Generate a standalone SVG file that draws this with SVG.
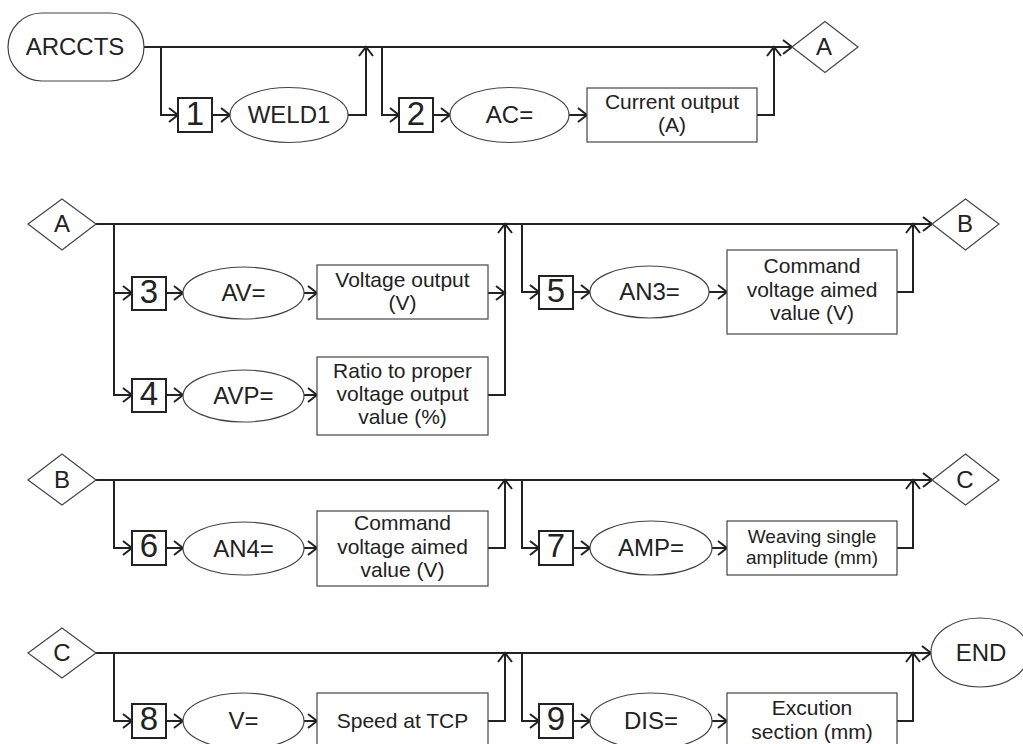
<svg xmlns="http://www.w3.org/2000/svg" width="1023" height="744" viewBox="0 0 1023 744">
<style>
  .bg{fill:#ffffff}
  .sh{fill:#ffffff;stroke:#444;stroke-width:1.2}
  .num{fill:#ffffff;stroke:#222;stroke-width:2}
  .t{font-family:"Liberation Sans",Arial,sans-serif;fill:#222;text-anchor:middle}
  .big{font-size:24px}
  .dig{font-size:33px}
  .mid{font-size:21px}
  .sm{font-size:19px}
  .c{fill:none;stroke:#222;stroke-width:2}
</style>
<defs>
  <marker id="ah" markerUnits="userSpaceOnUse" viewBox="-11 -9 13 18" markerWidth="13" markerHeight="18" refX="0" refY="0" orient="auto" overflow="visible">
    <path d="M-9,-7 L0,0 L-9,7" fill="none" stroke="#222" stroke-width="2"/>
  </marker>
</defs>
<rect class="bg" x="0" y="0" width="1023" height="744"/>

<g id="connectors">
  <!-- Row 1 -->
  <path class="c" d="M144,47 H792" marker-end="url(#ah)"/>
  <path class="c" d="M161,47 V115 H178" marker-end="url(#ah)"/>
  <path class="c" d="M212,115 H230" marker-end="url(#ah)"/>
  <path class="c" d="M348,115 H366 V47" marker-end="url(#ah)"/>
  <path class="c" d="M382,47 V115 H399" marker-end="url(#ah)"/>
  <path class="c" d="M433,115 H450" marker-end="url(#ah)"/>
  <path class="c" d="M569,115 H587" marker-end="url(#ah)"/>
  <path class="c" d="M757,115 H774 V47" marker-end="url(#ah)"/>
  <!-- Row 2 -->
  <path class="c" d="M96,224 H932" marker-end="url(#ah)"/>
  <path class="c" d="M114,224 V395 H132" marker-end="url(#ah)"/>
  <path class="c" d="M114,293 H132" marker-end="url(#ah)"/>
  <path class="c" d="M166,293 H183" marker-end="url(#ah)"/>
  <path class="c" d="M304,293 H317" marker-end="url(#ah)"/>
  <path class="c" d="M488,293 H505" marker-end="url(#ah)"/>
  <path class="c" d="M166,395 H183" marker-end="url(#ah)"/>
  <path class="c" d="M304,395 H317" marker-end="url(#ah)"/>
  <path class="c" d="M488,395 H505 V224" marker-end="url(#ah)"/>
  <path class="c" d="M522,224 V292 H539" marker-end="url(#ah)"/>
  <path class="c" d="M573,292 H590" marker-end="url(#ah)"/>
  <path class="c" d="M709,292 H727" marker-end="url(#ah)"/>
  <path class="c" d="M897,292 H913 V224" marker-end="url(#ah)"/>
  <!-- Row 3 -->
  <path class="c" d="M96,480 H932" marker-end="url(#ah)"/>
  <path class="c" d="M114,480 V548 H132" marker-end="url(#ah)"/>
  <path class="c" d="M166,548 H183" marker-end="url(#ah)"/>
  <path class="c" d="M304,548 H317" marker-end="url(#ah)"/>
  <path class="c" d="M488,548 H505 V480" marker-end="url(#ah)"/>
  <path class="c" d="M522,480 V548 H539" marker-end="url(#ah)"/>
  <path class="c" d="M573,548 H590" marker-end="url(#ah)"/>
  <path class="c" d="M712,548 H727" marker-end="url(#ah)"/>
  <path class="c" d="M897,548 H913 V480" marker-end="url(#ah)"/>
  <!-- Row 4 -->
  <path class="c" d="M96,653 H931" marker-end="url(#ah)"/>
  <path class="c" d="M114,653 V721 H132" marker-end="url(#ah)"/>
  <path class="c" d="M166,721 H183" marker-end="url(#ah)"/>
  <path class="c" d="M304,721 H317" marker-end="url(#ah)"/>
  <path class="c" d="M488,721 H505 V653" marker-end="url(#ah)"/>
  <path class="c" d="M522,653 V721 H539" marker-end="url(#ah)"/>
  <path class="c" d="M573,721 H590" marker-end="url(#ah)"/>
  <path class="c" d="M712,721 H727" marker-end="url(#ah)"/>
  <path class="c" d="M897,721 H913 V653" marker-end="url(#ah)"/>
</g>

<!-- Row 1 nodes -->
<g id="arccts"><rect class="sh" x="8" y="13" width="136" height="68" rx="34"/><text class="t big" x="75" y="55">ARCCTS</text></g>
<g id="n1"><rect class="num" x="178" y="98" width="34" height="34"/><text class="t dig" x="195" y="125">1</text></g>
<g id="weld1"><ellipse class="sh" cx="289" cy="115" rx="59" ry="27.5"/><text class="t big" x="289" y="123">WELD1</text></g>
<g id="n2"><rect class="num" x="399" y="98" width="34" height="34"/><text class="t dig" x="416" y="125">2</text></g>
<g id="ac"><ellipse class="sh" cx="509.5" cy="115" rx="59.5" ry="27.5"/><text class="t big" x="509.5" y="123">AC=</text></g>
<g id="current"><rect class="sh" x="587" y="88" width="170" height="54"/><text class="t mid" x="672" y="109">Current output</text><text class="t mid" x="672" y="132">(A)</text></g>
<g id="diamondA1"><polygon class="sh" points="792,47 825,21.5 858,47 825,72.5"/><text class="t big" x="824" y="55">A</text></g>

<!-- Row 2 nodes -->
<g id="diamondA2"><polygon class="sh" points="28,224 62,199 96,224 62,250"/><text class="t big" x="62" y="232">A</text></g>
<g id="n3"><rect class="num" x="132" y="277" width="34" height="33"/><text class="t dig" x="149" y="303">3</text></g>
<g id="av"><ellipse class="sh" cx="243.5" cy="293" rx="60.5" ry="26"/><text class="t big" x="243.5" y="301">AV=</text></g>
<g id="voltage"><rect class="sh" x="317" y="265" width="171" height="54"/><text class="t mid" x="402.5" y="287">Voltage output</text><text class="t mid" x="402.5" y="310">(V)</text></g>
<g id="n4"><rect class="num" x="132" y="379" width="34" height="33"/><text class="t dig" x="149" y="405">4</text></g>
<g id="avp"><ellipse class="sh" cx="243.5" cy="396" rx="60.5" ry="26"/><text class="t big" x="243.5" y="404">AVP=</text></g>
<g id="ratio"><rect class="sh" x="317" y="357" width="171" height="78"/><text class="t mid" x="402.5" y="378">Ratio to proper</text><text class="t mid" x="402.5" y="401">voltage output</text><text class="t mid" x="402.5" y="424">value (%)</text></g>
<g id="n5"><rect class="num" x="539" y="276" width="34" height="33"/><text class="t dig" x="556" y="302">5</text></g>
<g id="an3"><ellipse class="sh" cx="649.5" cy="292" rx="59.5" ry="26"/><text class="t big" x="649.5" y="300">AN3=</text></g>
<g id="cmd1"><rect class="sh" x="727" y="250" width="170" height="84"/><text class="t mid" x="812" y="273">Command</text><text class="t mid" x="812" y="296.5">voltage aimed</text><text class="t mid" x="812" y="320">value (V)</text></g>
<g id="diamondB1"><polygon class="sh" points="932,224 965.5,199 999,224 965.5,250"/><text class="t big" x="965" y="232">B</text></g>

<!-- Row 3 nodes -->
<g id="diamondB2"><polygon class="sh" points="28,480 62,454 96,480 62,505"/><text class="t big" x="62" y="488">B</text></g>
<g id="n6"><rect class="num" x="132" y="531" width="34" height="34"/><text class="t dig" x="149" y="557">6</text></g>
<g id="an4"><ellipse class="sh" cx="243.5" cy="548.5" rx="60.5" ry="26.5"/><text class="t big" x="243.5" y="557">AN4=</text></g>
<g id="cmd2"><rect class="sh" x="317" y="511" width="171" height="75"/><text class="t mid" x="402.5" y="530">Command</text><text class="t mid" x="402.5" y="553.5">voltage aimed</text><text class="t mid" x="402.5" y="577">value (V)</text></g>
<g id="n7"><rect class="num" x="539" y="531" width="34" height="34"/><text class="t dig" x="556" y="557">7</text></g>
<g id="amp"><ellipse class="sh" cx="651" cy="548" rx="61" ry="27"/><text class="t big" x="651" y="556">AMP=</text></g>
<g id="weaving"><rect class="sh" x="727" y="521" width="170" height="54"/><text class="t sm" x="812" y="543">Weaving single</text><text class="t sm" x="812" y="564">amplitude (mm)</text></g>
<g id="diamondC1"><polygon class="sh" points="932,480 965.5,454 999,480 965.5,505"/><text class="t big" x="965" y="488">C</text></g>

<!-- Row 4 nodes -->
<g id="diamondC2"><polygon class="sh" points="28,653 62,628 96,653 62,678"/><text class="t big" x="62" y="661">C</text></g>
<g id="n8"><rect class="num" x="132" y="704" width="34" height="34"/><text class="t dig" x="149" y="730">8</text></g>
<g id="v"><ellipse class="sh" cx="243.5" cy="721" rx="60.5" ry="28"/><text class="t big" x="243.5" y="729">V=</text></g>
<g id="speed"><rect class="sh" x="317" y="693" width="171" height="56"/><text class="t mid" x="402.5" y="728">Speed at TCP</text></g>
<g id="n9"><rect class="num" x="539" y="704" width="34" height="34"/><text class="t dig" x="556" y="730">9</text></g>
<g id="dis"><ellipse class="sh" cx="651" cy="721" rx="61" ry="28"/><text class="t big" x="651" y="729">DIS=</text></g>
<g id="excution"><rect class="sh" x="727" y="693" width="170" height="56"/><text class="t mid" x="812" y="715">Excution</text><text class="t mid" x="812" y="739">section (mm)</text></g>
<g id="end"><ellipse class="sh" cx="980" cy="652.5" rx="49" ry="34.5"/><text class="t big" x="981" y="661">END</text></g>
</svg>
